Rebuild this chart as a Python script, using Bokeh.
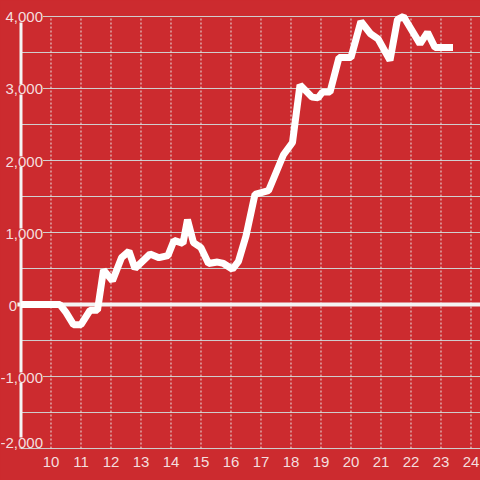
from bokeh.plotting import figure
from bokeh.models import Range1d, ColumnDataSource
from bokeh.core.properties import value
from bokeh.embed import file_html
from bokeh.resources import INLINE

# ---- data ----
hours = [9.0, 10.3, 10.5, 10.75, 11.0, 11.3, 11.55, 11.75, 12.05, 12.35,
         12.6, 12.8, 13.3, 13.6, 13.9, 14.1, 14.4, 14.55, 14.75, 15.0,
         15.25, 15.55, 15.75, 16.05, 16.25, 16.5, 16.8, 17.25, 17.75, 18.05,
         18.3, 18.7, 18.9, 19.05, 19.3, 19.6, 20.0, 20.33, 20.65, 20.9,
         21.3, 21.55, 21.75, 22.3, 22.55, 22.8, 23.4]
values = [0, 0, -110, -280, -280, -80, -80, 480, 330, 650,
          740, 500, 700, 650, 680, 890, 850, 1180, 860, 790,
          570, 590, 570, 490, 600, 950, 1530, 1580, 2080, 2250,
          3050, 2880, 2870, 2950, 2950, 3430, 3430, 3930, 3760, 3690,
          3390, 3960, 4000, 3620, 3780, 3570, 3570]

x_ticks = [10, 11, 12, 13, 14, 15, 16, 17, 18, 19, 20, 21, 22, 23, 24]
x_tick_labels = [str(t) for t in x_ticks]
y_major = [-2000, -1000, 0, 1000, 2000, 3000, 4000]
y_major_labels = ["-2,000", "-1,000", "0", "1,000", "2,000", "3,000", "4,000"]
y_grid = [-2000, -1500, -1000, -500, 500, 1000, 1500, 2000, 2500, 3000, 3500, 4000]

X_START, X_END = 8.317, 24.317
Y_START, Y_END = -2444, 4222
AXIS_X = 9.0

BG = "#cc2b2f"
FONT = "Liberation Sans"
LABEL_COLOR = "#f4dede"

p = figure(width=480, height=480, output_backend="svg", toolbar_location=None,
           x_range=Range1d(X_START, X_END), y_range=Range1d(Y_START, Y_END),
           x_axis_location=None, y_axis_location=None, min_border=0)
p.background_fill_color = BG
p.border_fill_color = BG
p.outline_line_color = None
p.grid.visible = False

# horizontal grid lines
p.segment(x0=[AXIS_X] * len(y_grid), y0=y_grid, x1=[X_END] * len(y_grid), y1=y_grid,
          line_color="#d0d0d0", line_width=1)
# vertical dotted grid lines
p.segment(x0=x_ticks, y0=[y_major[0]] * len(x_ticks), x1=x_ticks, y1=[y_major[-1]] * len(x_ticks),
          line_color="#e6e6e6", line_width=1, line_dash="2 2")
# y axis line
p.segment(x0=[AXIS_X], y0=[y_major[0]], x1=[AXIS_X], y1=[y_major[-1]],
          line_color="#f4f4f4", line_width=3)
# zero line
p.segment(x0=[AXIS_X - 0.12], y0=[0], x1=[X_END], y1=[0],
          line_color="#f4f4f4", line_width=4)

# data line
p.line(hours, values, line_color="white", line_width=7)

# y tick labels
nonzero = [i for i, v in enumerate(y_major) if v != 0]
ysrc = ColumnDataSource(dict(x=[AXIS_X] * len(nonzero),
                             y=[y_major[i] for i in nonzero],
                             t=[y_major_labels[i] for i in nonzero],
                             yo=[-6 if y_major[i] == min(y_major) else 1 for i in nonzero]))
p.text(x="x", y="y", text="t", source=ysrc, text_align="right", text_baseline="middle",
       x_offset=22, y_offset="yo", text_font=value(FONT), text_font_size="15px",
       text_color=LABEL_COLOR, background_fill_color=BG)
p.text(x=[AXIS_X], y=[0], text=["0"], text_align="right", text_baseline="middle",
       x_offset=-4, y_offset=1, text_font=value(FONT), text_font_size="15px",
       text_color=LABEL_COLOR)

# x tick labels
p.text(x=x_ticks, y=[y_major[0]] * len(x_ticks), text=x_tick_labels, text_align="center",
       text_baseline="middle", y_offset=13, text_font=value(FONT), text_font_size="15px",
       text_color=LABEL_COLOR)

html = file_html(p, INLINE)
html = html.replace("<head>", "<head><style>html,body{margin:0;padding:0;background:#cc2b2f;overflow:hidden}</style>", 1)
open("out.html", "w").write(html)
